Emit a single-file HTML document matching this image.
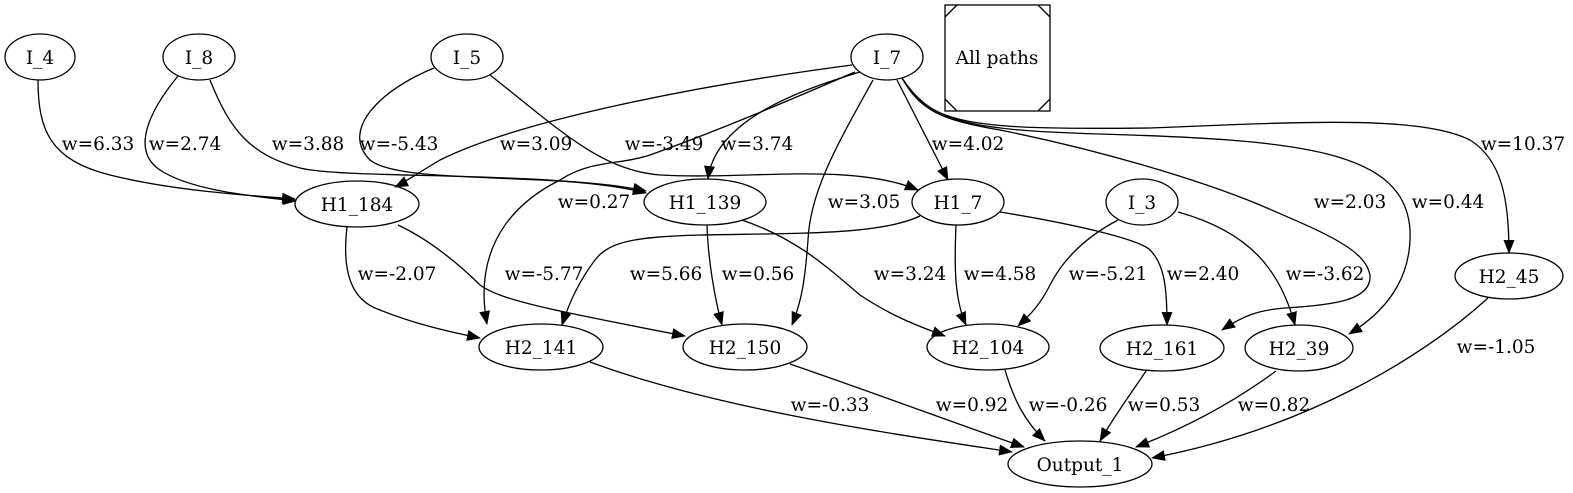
<!DOCTYPE html>
<html><head><meta charset="utf-8"><style>
html,body{margin:0;padding:0;background:#fff;}
svg{display:block;}
text{font-family:"DejaVu Serif","Liberation Serif",serif;font-size:18.5px;fill:#000;text-anchor:middle;}
.e{fill:none;stroke:#000;stroke-width:1.3;}
.n{fill:none;stroke:#000;stroke-width:1.3;}
</style></head><body>
<svg width="1573" height="493" viewBox="0 0 1573 493" xmlns="http://www.w3.org/2000/svg">
<defs><marker id="a" markerWidth="14" markerHeight="11" refX="13" refY="5.5" orient="auto" markerUnits="userSpaceOnUse"><path d="M0,0 L14,5.5 L0,11 Z" fill="#000"/></marker></defs>
<g class="n">
<ellipse cx="40" cy="57" rx="35" ry="23"/>
<ellipse cx="199" cy="57" rx="36" ry="23"/>
<ellipse cx="467" cy="57" rx="36" ry="23"/>
<ellipse cx="887" cy="57" rx="36" ry="23"/>
<rect x="945" y="5" width="105" height="106"/>
<path d="M945,17 L957,5 M1038,5 L1050,17 M945,99 L957,111 M1038,111 L1050,99"/>
<ellipse cx="357" cy="204" rx="62" ry="23"/>
<ellipse cx="705" cy="202" rx="61" ry="23"/>
<ellipse cx="958" cy="202" rx="46" ry="23"/>
<ellipse cx="1142" cy="202" rx="36" ry="23"/>
<ellipse cx="1509" cy="276" rx="54" ry="23"/>
<ellipse cx="541" cy="347" rx="62" ry="23"/>
<ellipse cx="745" cy="347" rx="62" ry="23"/>
<ellipse cx="988" cy="347" rx="61" ry="23"/>
<ellipse cx="1162" cy="348" rx="62" ry="23"/>
<ellipse cx="1299" cy="348" rx="54" ry="23"/>
<ellipse cx="1080" cy="464" rx="72" ry="23"/>
</g>
<text x="40" y="64">I_4</text>
<text x="199" y="64">I_8</text>
<text x="467" y="64">I_5</text>
<text x="887" y="64">I_7</text>
<text x="997" y="64">All paths</text>
<text x="357" y="211">H1_184</text>
<text x="705" y="209">H1_139</text>
<text x="958" y="209">H1_7</text>
<text x="1142" y="209">I_3</text>
<text x="1509" y="283">H2_45</text>
<text x="541" y="354">H2_141</text>
<text x="745" y="354">H2_150</text>
<text x="988" y="354">H2_104</text>
<text x="1162" y="355">H2_161</text>
<text x="1299" y="355">H2_39</text>
<text x="1080" y="471">Output_1</text>
<g class="e" marker-end="url(#a)">
<path d="M38,80 C38,130 50,160 110,175 C170,190 240,195 295,199"/>
<path d="M178,76 C150,110 130,150 160,170 C190,190 250,196 296,201"/>
<path d="M210,80 C230,130 250,155 300,168 C350,180 560,170 646,193"/>
<path d="M434,68 C380,90 340,130 370,160 C400,185 560,172 646,191"/>
<path d="M490,75 C560,130 600,170 660,175 C750,180 850,162 918,190"/>
<path d="M852,65 C700,85 520,120 440,160 C415,175 405,182 395,187"/>
<path d="M855,72 C790,100 720,130 650,155 C620,165 590,160 560,180 C500,210 475,260 487,324"/>
<path d="M860,72 C800,90 715,120 708,179"/>
<path d="M873,80 C840,140 810,190 808,240 C805,280 802,300 792,325"/>
<path d="M897,80 L948,180"/>
<path d="M902,78 C920,110 940,120 1000,130 C1100,150 1200,180 1260,205 C1330,235 1365,250 1370,275 C1372,300 1335,305 1285,308 C1258,310 1243,316 1222,330"/>
<path d="M902,78 C930,120 960,130 1100,134 C1300,140 1405,150 1410,230 C1412,280 1385,312 1349,334"/>
<path d="M902,78 C930,125 970,130 1150,128 C1300,122 1420,115 1470,140 C1502,160 1509,200 1509,253"/>
<path d="M347,227 C342,270 350,300 380,310 C410,322 440,330 480,338"/>
<path d="M398,225 C430,240 460,265 480,285 C500,300 550,310 685,336"/>
<path d="M920,216 C880,235 800,233 700,235 C640,237 610,240 595,260 C580,280 570,300 562,325"/>
<path d="M707,225 C708,260 715,300 722,325"/>
<path d="M742,220 C800,240 830,270 860,295 C890,315 915,325 945,336"/>
<path d="M956,225 C954,270 955,300 966,325"/>
<path d="M1118,220 C1080,240 1060,265 1050,285 C1040,305 1030,315 1018,326"/>
<path d="M1000,212 C1080,225 1140,240 1150,250 C1165,265 1167,290 1167,325"/>
<path d="M1178,212 C1250,232 1280,270 1295,325"/>
<path d="M590,362 C720,410 900,435 1012,452"/>
<path d="M790,364 C880,395 960,425 1024,447"/>
<path d="M1005,370 C1014,400 1024,420 1045,441"/>
<path d="M1146,371 C1130,395 1115,415 1100,441"/>
<path d="M1276,371 C1230,405 1180,430 1136,447"/>
<path d="M1488,298 C1420,360 1300,430 1152,458"/>
</g>
<text x="98" y="150">w=6.33</text>
<text x="185" y="150">w=2.74</text>
<text x="308" y="150">w=3.88</text>
<text x="399" y="150">w=-5.43</text>
<text x="536" y="150">w=3.09</text>
<text x="664" y="150">w=-3.49</text>
<text x="757" y="150">w=3.74</text>
<text x="968" y="150">w=4.02</text>
<text x="1523" y="150">w=10.37</text>
<text x="594" y="208">w=0.27</text>
<text x="864" y="208">w=3.05</text>
<text x="1350" y="208">w=2.03</text>
<text x="1448" y="208">w=0.44</text>
<text x="397" y="280">w=-2.07</text>
<text x="544" y="280">w=-5.77</text>
<text x="666" y="280">w=5.66</text>
<text x="758" y="280">w=0.56</text>
<text x="910" y="280">w=3.24</text>
<text x="1000" y="280">w=4.58</text>
<text x="1108" y="280">w=-5.21</text>
<text x="1203" y="280">w=2.40</text>
<text x="1325" y="280">w=-3.62</text>
<text x="1496" y="353">w=-1.05</text>
<text x="830" y="411">w=-0.33</text>
<text x="972" y="411">w=0.92</text>
<text x="1068" y="411">w=-0.26</text>
<text x="1164" y="411">w=0.53</text>
<text x="1274" y="411">w=0.82</text>
</svg>
</body></html>
